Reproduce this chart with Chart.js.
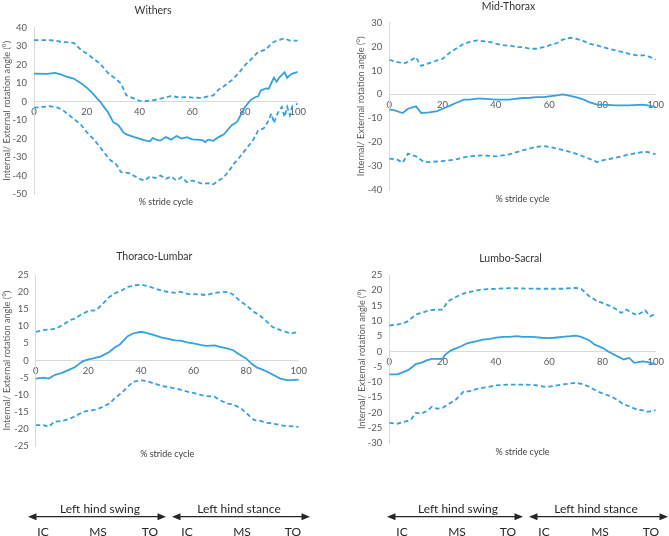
<!DOCTYPE html>
<html><head><meta charset="utf-8">
<script src="https://cdn.jsdelivr.net/npm/chart.js@4"></script>
<style>
html,body{margin:0;padding:0;background:#fff;overflow:hidden;width:669px;height:536px;}
canvas{position:absolute;}
svg{position:absolute;left:0;top:0;}
</style></head><body>
<canvas id="c1"></canvas>
<canvas id="c2"></canvas>
<canvas id="c3"></canvas>
<canvas id="c4"></canvas>
<svg id="ann" width="669" height="536" xmlns="http://www.w3.org/2000/svg"></svg>
<script>
// ---------- DATA ----------
const xTickStep = 20;
const yTitleText = 'Internal/ External rotation angle (°)';
const xTitleText = '% stride cycle';

// Withers
const withersYTicks = [-50, 40, 10];
const withersMeanX = [0,5,8,10,12,15,18,20,22,24,25,27,28,30,32,34,35,38,40,42,44,45,47,48,50,52,54,56,58,60,62,64,65,66,68,70,72,75,77,80,82,84,85,86,88,89,90,91,92,93,95,96,97,98,100];
const withersMeanY = [15.2,15,15.5,14.8,13.7,12.5,9.8,7.6,4.9,1.6,0.2,-3.8,-5.6,-11,-12.8,-16.8,-17.7,-19.2,-20,-21,-21.5,-19.7,-21,-21,-19.2,-20.6,-18.6,-20,-19.2,-20.4,-20.6,-21,-21.9,-20.6,-21.2,-19.2,-17.7,-12.8,-11,-2.9,0.7,2.5,2.9,6.1,7.2,7,10.1,13,10.7,13,15.9,12.8,14.3,15.2,16.1];
const withersUpperX = [0,5,8,10,15,18,20,25,28,30,33,35,38,40,42,45,48,50,52,55,58,60,63,65,68,70,72,75,78,80,82,85,88,90,92,95,97,100];
const withersUpperY = [33.3,33.3,33,32.4,31.8,27.8,26,20.6,15.6,13.4,9.8,3.4,1.6,0.4,0.2,0.7,1.6,2.2,3.1,2.2,2.5,2.2,2,2.5,3.4,6.5,8.3,11.6,16.1,19.7,22.4,26.9,28.2,31.5,33,34.2,33,33];
const withersLowerX = [0,3,6,9,11,15,18,20,23,26,29,31,33,36,40,42,44,46,48,50,52,54,56,58,60,62,64,66,68,70,72,74,76,78,80,83,85,87,88,89,90,91,92,93,94,95,96,97,98,100];
const withersLowerY = [-3.3,-2.9,-2.5,-3.3,-4.7,-9.2,-12.8,-16.5,-21,-26.4,-31.8,-33.6,-38.2,-38.7,-41.8,-42.7,-40.5,-41.4,-40,-41.8,-40.5,-42.7,-40.9,-43.6,-42.7,-43.6,-44.5,-44.1,-44.8,-42.7,-40.9,-37.3,-33.3,-30,-26.4,-21,-15.6,-14.6,-12.8,-9.8,-6.5,-11.6,-7.4,-4.7,-2.9,-8.3,-2.9,-7.4,-2.5,-1.1];

// Mid-Thorax
const midYTicks = [-40, 30, 10];
const midMeanX = [0,2,5,7,10,12,15,18,20,23,25,28,30,33,35,40,45,50,53,55,58,60,63,65,67,70,73,75,78,80,85,90,95,97,100];
const midMeanY = [-6.3,-6.7,-7.8,-6,-5,-7.8,-7.5,-7,-6,-4.6,-3.6,-2.2,-2.2,-1.8,-1.8,-2.2,-2.2,-1.5,-1.4,-1.1,-1.1,-0.8,-0.4,0,-0.4,-1.1,-2.2,-3.2,-4.3,-4.3,-4.6,-4.6,-4.3,-4.6,-5.3];
const midUpperX = [0,3,6,8,10,11,12,15,18,20,23,25,28,30,33,35,38,40,43,45,48,50,53,55,58,60,63,65,68,70,73,75,78,80,85,90,93,96,98,100];
const midUpperY = [14.5,13.5,13.1,14.2,15.6,13.5,11.9,13.1,14.2,14.9,17.7,19.1,21.2,21.9,22.6,22.3,21.9,21.2,20.5,20.5,19.8,19.8,19.1,19.1,19.8,20.5,21.5,22.9,23.7,23.3,22.3,21.2,20.5,19.8,18.4,17,16.3,16.3,15.6,14.5];
const midLowerX = [0,3,5,7,10,13,15,20,25,30,35,40,45,50,55,58,60,65,70,75,78,80,85,90,95,97,100];
const midLowerY = [-26.9,-27.3,-28.6,-24.8,-25.9,-28.3,-28.3,-27.9,-27.2,-25.9,-25.5,-25.9,-25.1,-23.4,-22,-21.6,-22,-23.2,-24.8,-26.9,-28.3,-27.6,-26.5,-25.1,-24.1,-24.1,-25.1];

// Thoraco-Lumbar
const tlYTicks = [-25, 25, 5];
const tlMeanX = [0,3,5,7,10,13,15,17,18,20,22,25,28,30,32,35,37,40,42,45,48,50,53,55,58,60,63,65,68,70,73,75,77,80,82,84,86,88,90,93,96,100];
const tlMeanY = [-5.3,-5,-5.3,-4.3,-3.6,-2.6,-1.9,-0.7,-0.2,0.3,0.6,1.3,2.5,3.8,4.7,7.1,7.9,8.4,8.1,7.4,6.7,6.4,5.9,5.8,5.2,5,4.5,4.3,4.4,4,3.5,3,2,0.6,-0.9,-2,-2.6,-3.3,-4.1,-5.3,-5.8,-5.6];
const tlUpperX = [0,3,6,8,10,13,15,17,20,23,25,28,30,33,35,38,40,43,45,48,50,53,55,58,60,63,65,68,70,73,75,78,80,83,85,88,90,93,95,97,100];
const tlUpperY = [8.4,8.9,9.1,9.4,10.3,11.8,12.3,13.3,14.5,14.7,16.2,18.6,19.6,20.6,21.5,22,22.2,21.7,21.1,20.4,20.1,19.8,20.1,19.4,19.4,19.3,19.1,19.8,19.9,20.1,19.3,17.2,16.2,14.2,13.3,11.3,9.8,8.9,8.4,7.9,8.4];
const tlLowerX = [0,3,5,7,10,13,15,18,20,23,25,28,30,33,35,37,40,42,45,48,50,53,55,58,60,63,65,68,70,73,75,78,80,83,85,88,90,93,95,100];
const tlLowerY = [-18.9,-18.9,-19.4,-17.9,-17.7,-17,-16.3,-15,-14.7,-14.3,-13.7,-12.6,-11.1,-9.2,-7.7,-6.2,-5.8,-6,-6.7,-7.5,-7.7,-8.2,-8.5,-9.2,-9.5,-10.1,-10.4,-10.6,-11.6,-12.6,-12.8,-14,-15.3,-17.4,-17.6,-18.2,-18.4,-18.9,-19.1,-19.4];

// Lumbo-Sacral
const lsYTicks = [-30, 25, 5];
const lsMeanX = [0,3,5,7,9,10,12,14,16,18,20,21,23,25,27,29,31,33,35,38,40,43,45,48,50,53,55,57,60,62,65,68,70,72,75,77,80,82,85,88,90,92,95,97,100];
const lsMeanY = [-7.5,-7.5,-6.8,-6.1,-4.8,-4,-3.7,-2.9,-2.4,-2.4,-2.4,-1,0.3,1,1.7,2.6,3.1,3.4,3.9,4.1,4.5,4.8,4.8,5,4.8,4.8,4.7,4.5,4.4,4.5,4.8,5,5.2,4.8,3.7,2.3,1.2,0.1,-1.3,-2.6,-2.1,-3.7,-3.2,-3.5,-4.2];
const lsUpperX = [0,3,5,7,10,13,15,18,20,22,25,28,30,33,35,40,45,50,55,60,65,70,72,75,78,80,83,85,87,89,91,93,95,96,98,100];
const lsUpperY = [8.5,8.8,9.2,9.9,12.1,12.9,13.5,13.7,13.7,16.4,17.8,19,19.4,20,20.3,20.5,20.7,20.6,20.5,20.5,20.5,20.8,20.5,18.1,16.4,15.9,14.8,13.9,12.6,13.7,12.6,11.9,12.9,13.5,11.5,12.4];
const lsLowerX = [0,3,5,8,10,12,14,16,18,20,22,25,28,30,33,35,40,45,50,55,58,60,63,65,70,73,75,78,80,83,85,88,90,93,95,97,100];
const lsLowerY = [-23.3,-23.6,-23.1,-22.4,-20,-20.3,-19.5,-18.1,-18.7,-18.4,-17.3,-15.7,-13,-13,-12.2,-11.9,-11.1,-10.8,-10.8,-11,-11.5,-11.5,-11.1,-10.8,-10.2,-10.8,-11.5,-13,-13.7,-14.6,-15.5,-17.3,-17.9,-19,-19.2,-19.7,-19.2];

// Gait phase annotation labels
const phaseLabels = ['Left hind swing', 'Left hind stance'];
const eventLabels = ['IC', 'MS', 'TO'];

// ---------- RENDER ----------
const LINE = '#35a0dc';
const FONT = 'Lato, "Open Sans", sans-serif';
function pts(xs, ys) { return xs.map((x, i) => ({x: x, y: ys[i]})); }

function makeChart(id, g, title, mean, upper, lower, yt) {
  const c = document.getElementById(id);
  c.width = g.w; c.height = g.h;
  c.style.left = g.l + 'px'; c.style.top = g.t + 'px';
  const ds = (data, dash) => ({data, borderColor: LINE, borderWidth: 1.8, borderDash: dash, pointRadius: 0, tension: 0, fill: false});
  new Chart(c, {
    type: 'line',
    data: {datasets: [ds(pts(upper[0], upper[1]), [4.5, 3]), ds(pts(mean[0], mean[1]), []), ds(pts(lower[0], lower[1]), [4.5, 3])]},
    options: {
      responsive: false, animation: false, devicePixelRatio: 1,
      layout: {padding: {left: g.pl, right: g.pr, top: 0, bottom: 0}},
      plugins: {
        legend: {display: false}, tooltip: {enabled: false},
        title: {display: true, text: title, color: '#333333', font: {family: FONT, size: 10.5, weight: 'normal'}, padding: {top: g.t1, bottom: g.t2}}
      },
      scales: {
        x: {type: 'linear', min: 0, max: 100, position: {y: 0},
            grid: {display: false, drawTicks: false}, border: {color: '#d9d9d9', width: 1},
            ticks: {stepSize: xTickStep, padding: 5, color: '#595959', maxRotation: 0, font: {family: FONT, size: 9.5}}},
        x2: {type: 'linear', min: 0, max: 100, position: 'bottom',
            grid: {display: false, drawTicks: false}, border: {display: false}, ticks: {display: false},
            title: {display: true, text: xTitleText, color: '#404040', font: {family: FONT, size: 9}, padding: {top: g.p1, bottom: g.p2}}},
        y: {type: 'linear', min: yt[0], max: yt[1], position: 'left',
            grid: {display: false, drawTicks: false}, border: {color: '#d9d9d9', width: 1},
            ticks: {stepSize: yt[2], padding: 7, color: '#595959', font: {family: FONT, size: 9.5}},
            title: {display: true, text: yTitleText, color: '#595959', font: {family: FONT, size: 9.2}, padding: {top: g.yp, bottom: 0}},
            afterFit: (s) => { s.width = g.yw; }}
      }
    }
  });
}

makeChart('c1', {l: 0, t: 0, w: 311, h: 210, pl: 5, pr: 10, yw: 29, yp: -3.8, t1: 4.7, t2: 10.4, p1: 2.6, p2: 2.6},
  'Withers', [withersMeanX, withersMeanY], [withersUpperX, withersUpperY], [withersLowerX, withersLowerY], withersYTicks);
makeChart('c2', {l: 350, t: 0, w: 319, h: 206, pl: 7, pr: 9, yw: 32.3, yp: -1.2, t1: 0, t2: 10.1, p1: 3.3, p2: 1.9},
  'Mid-Thorax', [midMeanX, midMeanY], [midUpperX, midUpperY], [midLowerX, midLowerY], midYTicks);
makeChart('c3', {l: 0, t: 245, w: 312, h: 216, pl: 7, pr: 10.5, yw: 28.7, yp: -5.2, t1: 5.7, t2: 11.7, p1: 2.6, p2: 1.6},
  'Thoraco-Lumbar', [tlMeanX, tlMeanY], [tlUpperX, tlUpperY], [tlLowerX, tlLowerY], tlYTicks);
makeChart('c4', {l: 354, t: 245, w: 315, h: 214, pl: 7, pr: 9, yw: 28.3, yp: -4.8, t1: 7.5, t2: 9.9, p1: 3, p2: 1.9},
  'Lumbo-Sacral', [lsMeanX, lsMeanY], [lsUpperX, lsUpperY], [lsLowerX, lsLowerY], lsYTicks);

// ---------- gait phase arrows ----------
const svg = document.getElementById('ann');
const NS = 'http://www.w3.org/2000/svg';
function el(tag, attrs, txt) {
  const e = document.createElementNS(NS, tag);
  for (const k in attrs) e.setAttribute(k, attrs[k]);
  if (txt) e.textContent = txt;
  svg.appendChild(e); return e;
}
function arrow(x0, x1, y) {
  el('line', {x1: x0 + 7, y1: y, x2: x1 - 7, y2: y, stroke: '#262626', 'stroke-width': 1.3});
  el('polygon', {points: `${x0},${y} ${x0 + 8.5},${y - 3.5} ${x0 + 8.5},${y + 3.5}`, fill: '#262626'});
  el('polygon', {points: `${x1},${y} ${x1 - 8.5},${y - 3.5} ${x1 - 8.5},${y + 3.5}`, fill: '#262626'});
}
function txt(x, y, s) {
  el('text', {x: x, y: y, 'text-anchor': 'middle', 'dominant-baseline': 'central', 'font-family': 'Lato, sans-serif', 'font-size': 12, fill: '#262626'}, s);
}
const groups = [
  {arrows: [[28, 166], [172, 310]], phase: [100, 239], events: [[43, 98, 150], [187, 242, 293]]},
  {arrows: [[387, 523], [529, 668]], phase: [458, 596], events: [[402, 457, 508], [544, 600, 651]]}
];
const arrowY = 516.7;
groups.forEach(g => {
  g.arrows.forEach(a => arrow(a[0], a[1], arrowY));
  phaseLabels.forEach((p, i) => txt(g.phase[i], 508.5, p));
  g.events.forEach(row => row.forEach((x, i) => txt(x, 531, eventLabels[i])));
});
</script>
</body></html>
